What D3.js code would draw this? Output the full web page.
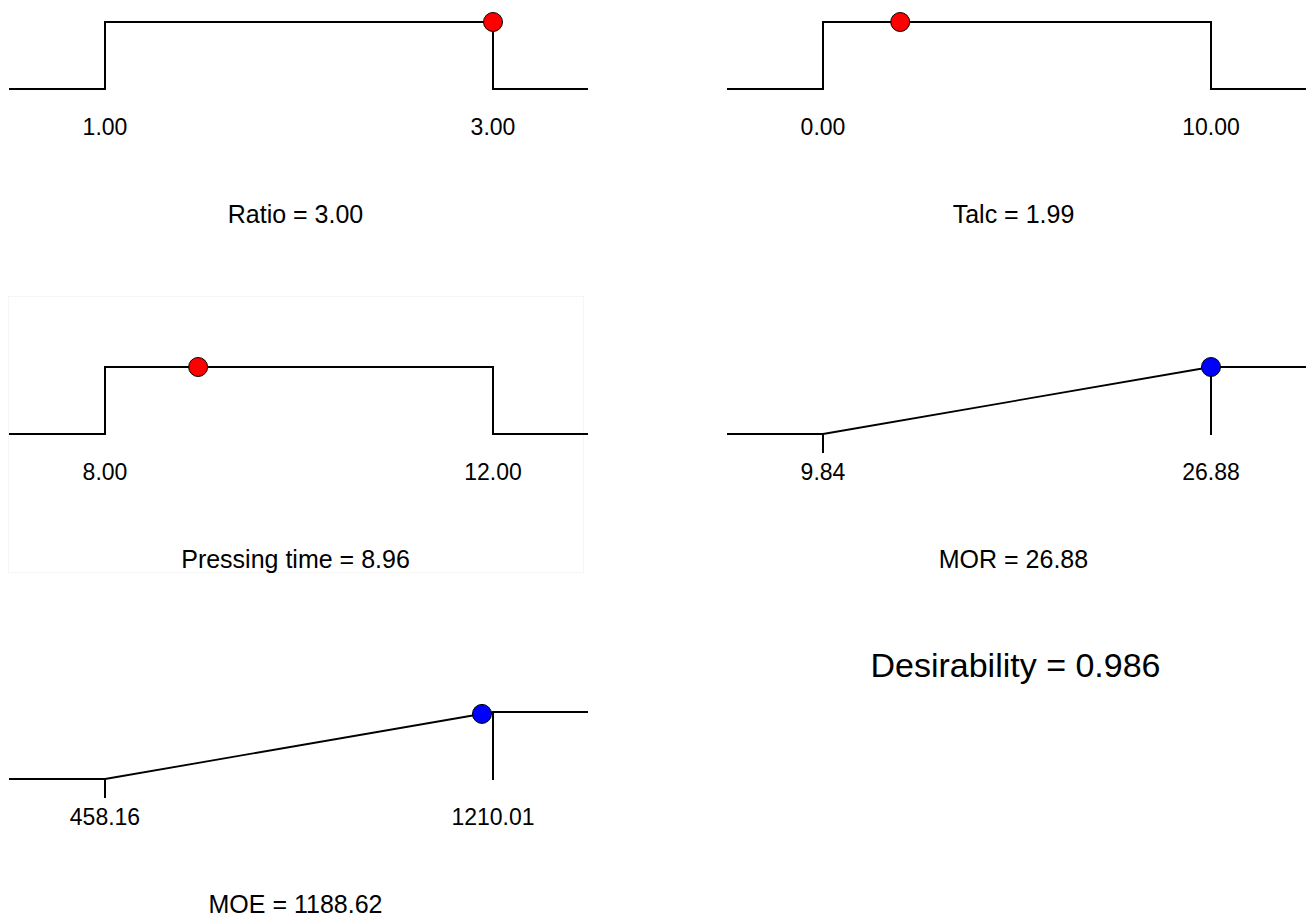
<!DOCTYPE html>
<html>
<head>
<meta charset="utf-8">
<script src="https://cdn.jsdelivr.net/npm/d3@7"></script>
<style>
    body { margin: 0; background: white; }
    text { font-family: "Liberation Sans", Arial, sans-serif; fill: black; }
</style>
</head>
<body>
<svg id="chart" width="1307" height="920"></svg>
<script>

// Factors (step desirability, point at the chosen setting)
const factorNames = ["Ratio", "Talc", "Pressing time"]
const factorLow = [1.00, 0.00, 8.00]
const factorHigh = [3.00, 10.00, 12.00]
const factorValue = [3.00, 1.99, 8.96]
const factorCells = [[0, 0], [0, 1], [1, 0]]

// Responses (maximize, ramp desirability)
const responseNames = ["MOR", "MOE"]
const responseLow = [9.84, 458.16]
const responseHigh = [26.88, 1210.01]
const responseValue = [26.88, 1188.62]
const responseCells = [[1, 1], [2, 0]]

// Overall desirability
const desirability = 0.986

class DesirabilityRenderer {

    // Constructor
    constructor(canvasWidth, canvasHeight) {
        this.canvasWidth = canvasWidth;
        this.canvasHeight = canvasHeight;

        // Panel grid
        this.colX = [9, 727]
        this.rowY = [0, 345, 690]
        this.panelWidth = 579

        // Inner range of each panel (low..high)
        this.innerLeft = 96
        this.innerRight = 484

        // Desirability 0..1 within panel
        this.yLow = 89
        this.yHigh = 22
    }

    // Panel group + scales
    panel(svg, cell, low, high) {
        let g = svg
            .append("g")
            .attr("transform", "translate(" + this.colX[cell[1]] + "," + this.rowY[cell[0]] + ")")
        let x = d3.scaleLinear().domain([low, high]).range([this.innerLeft, this.innerRight])
        let y = d3.scaleLinear().domain([0, 1]).range([this.yLow, this.yHigh])
        return {g, x, y}
    }

    // Labels under a panel
    labels(g, x, low, high, title) {
        for (let v of [low, high]) {
            g.append("text")
                .attr("x", x(v))
                .attr("y", 135)
                .attr("text-anchor", "middle")
                .attr("font-size", 23)
                .text(v.toFixed(2))
        }
        g.append("text")
            .attr("x", this.panelWidth / 2 - 3)
            .attr("y", 223)
            .attr("text-anchor", "middle")
            .attr("font-size", 25)
            .text(title)
    }

    // Renderer
    render(svg) {

        // Faint frame around the pressing time panel
        svg.append("rect")
            .attr("x", 8.5)
            .attr("y", 296.5)
            .attr("width", 575)
            .attr("height", 276)
            .attr("fill", "none")
            .attr("stroke", "#f5f5f5")
            .attr("stroke-width", 1)

        // Factor panels
        for (let i in factorNames) {
            let {g, x, y} = this.panel(svg, factorCells[i], factorLow[i], factorHigh[i])
            let lo = factorLow[i], hi = factorHigh[i]

            let pts = [[0, y(0)], [x(lo), y(0)], [x(lo), y(1)], [x(hi), y(1)], [x(hi), y(0)], [this.panelWidth, y(0)]]
            g.append("path")
                .attr("d", d3.line()(pts))
                .attr("fill", "none")
                .attr("stroke", "black")
                .attr("stroke-width", 2)

            g.append("circle")
                .attr("cx", x(factorValue[i]))
                .attr("cy", y(1))
                .attr("r", 9.5)
                .attr("fill", "#ff0000")
                .attr("stroke", "black")
                .attr("stroke-width", 1)

            this.labels(g, x, lo, hi, factorNames[i] + " = " + factorValue[i].toFixed(2))
        }

        // Response panels
        for (let i in responseNames) {
            let {g, x, y} = this.panel(svg, responseCells[i], responseLow[i], responseHigh[i])
            let lo = responseLow[i], hi = responseHigh[i]

            // Flat parts
            g.append("line")
                .attr("x1", 0).attr("x2", x(lo))
                .attr("y1", y(0)).attr("y2", y(0))
                .attr("stroke", "black").attr("stroke-width", 2)
            g.append("line")
                .attr("x1", x(hi)).attr("x2", this.panelWidth)
                .attr("y1", y(1)).attr("y2", y(1))
                .attr("stroke", "black").attr("stroke-width", 2)

            // Ramp
            g.append("line")
                .attr("x1", x(lo)).attr("x2", x(hi))
                .attr("y1", y(0)).attr("y2", y(1))
                .attr("stroke", "black").attr("stroke-width", 1.8)

            // Low tick and high drop line
            g.append("line")
                .attr("x1", x(lo)).attr("x2", x(lo))
                .attr("y1", y(0)).attr("y2", y(0) + 19)
                .attr("stroke", "black").attr("stroke-width", 2)
            g.append("line")
                .attr("x1", x(hi)).attr("x2", x(hi))
                .attr("y1", y(1)).attr("y2", y(0) + 1)
                .attr("stroke", "black").attr("stroke-width", 2)

            let d = Math.max(0, Math.min(1, (responseValue[i] - lo) / (hi - lo)))
            g.append("circle")
                .attr("cx", x(responseValue[i]))
                .attr("cy", y(d))
                .attr("r", 9.5)
                .attr("fill", "#0000ff")
                .attr("stroke", "black")
                .attr("stroke-width", 1)

            this.labels(g, x, lo, hi, responseNames[i] + " = " + responseValue[i].toFixed(2))
        }

        // Overall desirability text
        svg.append("text")
            .attr("x", this.colX[1] + this.panelWidth / 2 - 1)
            .attr("y", 677)
            .attr("text-anchor", "middle")
            .attr("font-size", 34)
            .text("Desirability = " + desirability.toFixed(3))
    }
}

let svg = d3.select("#chart")
new DesirabilityRenderer(1307, 920).render(svg)

</script>
</body>
</html>
